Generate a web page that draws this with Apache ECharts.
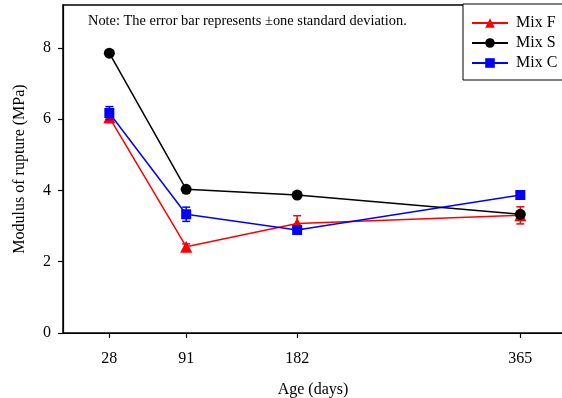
<!DOCTYPE html>
<html>
<head>
<meta charset="utf-8">
<script src="https://cdn.jsdelivr.net/npm/echarts@6/dist/echarts.min.js"></script>
<style>html,body{margin:0;padding:0;background:#fff;}#c{width:562px;height:398px;}</style>
</head>
<body>
<div id="c"></div>
<script>
const ages = [28, 91, 182, 365];
const xTickLabels = [28, 91, 182, 365];
const yTickLabels = [0, 2, 4, 6, 8];
const mixF = [6.05, 2.42, 3.07, 3.30];
const sdF = [0.15, 0.08, 0.22, 0.24];
const mixS = [7.85, 4.03, 3.87, 3.33];
const sdS = [0.05, 0.05, 0.05, 0.05];
const mixC = [6.17, 3.33, 2.89, 3.87];
const sdC = [0.18, 0.20, 0.10, 0.10];

const FONT = 'Liberation Serif';
const chart = echarts.init(document.getElementById('c'), null, {renderer: 'canvas'});

function pts(vals) { return ages.map((a, i) => [a, vals[i]]); }
function errData(vals, sds) { return ages.map((a, i) => [a, vals[i] - sds[i], vals[i] + sds[i]]); }
function errSeries(name, vals, sds, color, z) {
  return {
    type: 'custom', name: name + ' err', z: z,
    data: errData(vals, sds),
    encode: {x: 0, y: [1, 2]},
    renderItem: function (params, api) {
      const x = api.value(0);
      const lo = api.coord([x, api.value(1)]);
      const hi = api.coord([x, api.value(2)]);
      const hw = 4;
      const st = {stroke: color, lineWidth: 1.5};
      return {type: 'group', children: [
        {type: 'line', shape: {x1: lo[0], y1: lo[1], x2: hi[0], y2: hi[1]}, style: st},
        {type: 'line', shape: {x1: lo[0] - hw, y1: lo[1], x2: lo[0] + hw, y2: lo[1]}, style: st},
        {type: 'line', shape: {x1: hi[0] - hw, y1: hi[1], x2: hi[0] + hw, y2: hi[1]}, style: st}
      ]};
    },
    silent: true
  };
}
function lineSeries(name, vals, color, symbol, size, z) {
  return {
    type: 'line', name: name, data: pts(vals), z: z,
    symbol: symbol, symbolSize: size, showAllSymbol: true,
    lineStyle: {color: color, width: 1.5},
    itemStyle: {color: color},
    animation: false
  };
}

chart.setOption({
  animation: false,
  grid: {left: 63, top: 5, width: 500, height: 328, show: true, borderColor: '#000', borderWidth: 1.5, containLabel: false, outerBoundsMode: 'none'},
  xAxis: {
    type: 'value', min: -10, max: 400,
    name: 'Age (days)', nameLocation: 'middle', nameGap: 49,
    nameTextStyle: {fontFamily: FONT, fontSize: 16, color: '#000'},
    axisLine: {show: true, onZero: false, lineStyle: {color: '#000', width: 1.2}},
    axisTick: {show: true, length: 5, inside: false, customValues: xTickLabels, lineStyle: {color: '#000', width: 1.2}},
    axisLabel: {customValues: xTickLabels, fontFamily: FONT, fontSize: 16, color: '#000', margin: 18},
    splitLine: {show: false}
  },
  yAxis: {
    type: 'value', min: 0, max: 9.2,
    name: 'Modulus of rupture (MPa)', nameLocation: 'middle', nameGap: 35,
    nameTextStyle: {fontFamily: FONT, fontSize: 16, color: '#000'},
    axisLine: {show: true, onZero: false, lineStyle: {color: '#000', width: 1.2}},
    axisTick: {show: true, length: 5, customValues: yTickLabels, lineStyle: {color: '#000', width: 1.2}},
    axisLabel: {customValues: yTickLabels, fontFamily: FONT, fontSize: 16, color: '#000', margin: 12},
    splitLine: {show: false}
  },
  legend: {
    left: 463, top: 4, orient: 'vertical',
    data: ['Mix F', 'Mix S', 'Mix C'],
    backgroundColor: '#fff', borderColor: '#000', borderWidth: 1,
    padding: [11, 40, 9, 8],
    itemWidth: 36, itemHeight: 12, itemGap: 4,
    textStyle: {fontFamily: FONT, fontSize: 16, lineHeight: 16, color: '#000', padding: [0, 0, 0, 3]}
  },
  graphic: [{
    type: 'text', left: 88, top: 14,
    style: {text: 'Note: The error bar represents \u00b1one standard deviation.', fontFamily: FONT, fontSize: 14.4, fill: '#000'}
  }],
  series: [
    errSeries('Mix F', mixF, sdF, '#ff0000', 2),
    lineSeries('Mix F', mixF, '#ff0000', 'triangle', 12, 3),
    errSeries('Mix C', mixC, sdC, '#0000ff', 4),
    lineSeries('Mix C', mixC, '#0000ff', 'rect', 10, 5),
    errSeries('Mix S', mixS, sdS, '#000000', 6),
    lineSeries('Mix S', mixS, '#000000', 'circle', 11, 7)
  ]
});
</script>
</body>
</html>
